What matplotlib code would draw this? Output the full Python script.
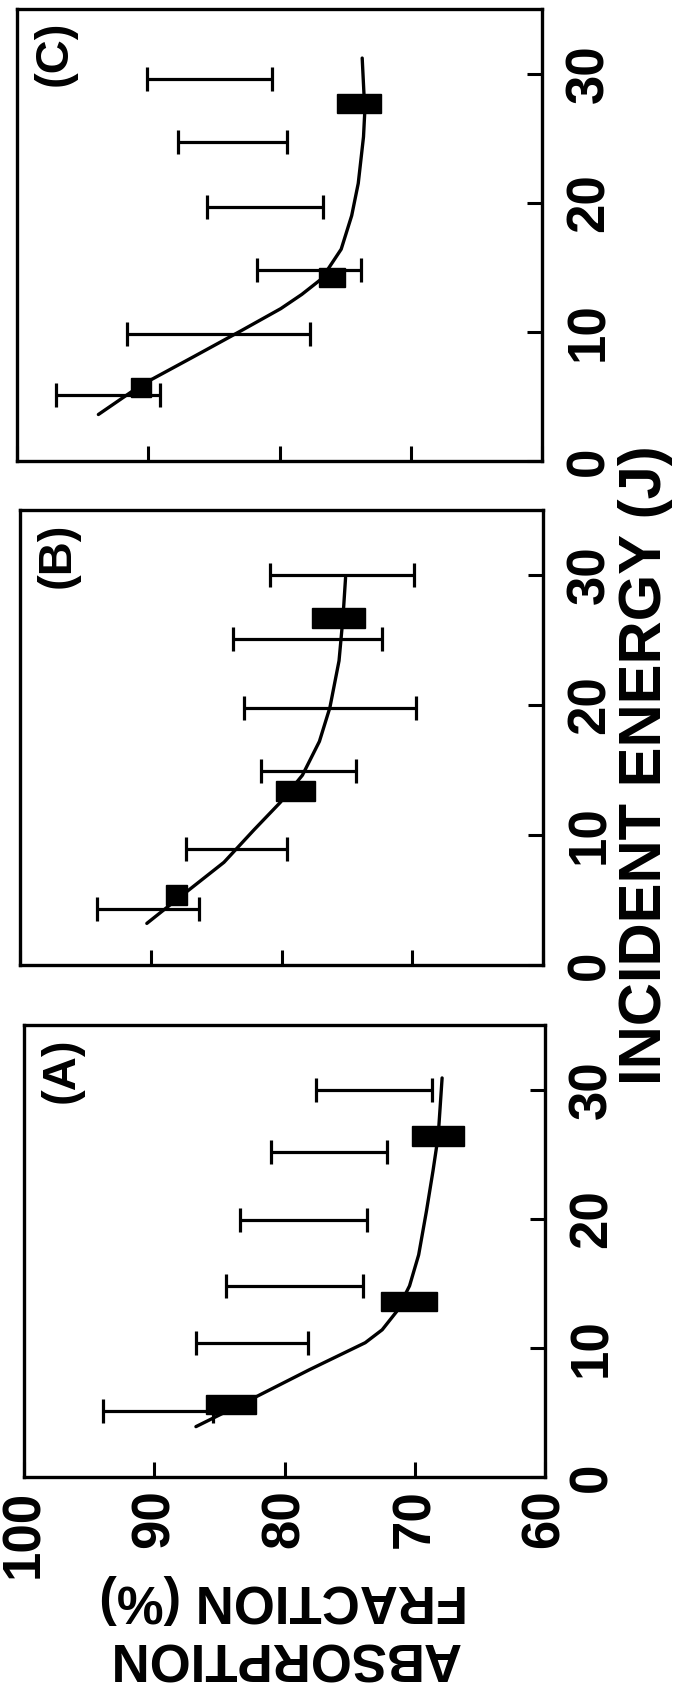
import matplotlib
matplotlib.use('Agg')
import matplotlib.pyplot as plt

plt.rcParams['font.family'] = ['Liberation Sans', 'DejaVu Sans']
plt.rcParams['font.weight'] = 'bold'

W, H = 675, 1694

panel_labels = ['(A)', '(B)', '(C)']
energy_ticks = [0, 10, 20, 30]
absorption_ticks = [100, 90, 80, 70, 60]
x_label = 'INCIDENT ENERGY (J)'
y_label = 'ABSORPTION\nFRACTION (%)'

# ---- Panel A ----
a_curve_e = [3.9, 6.1, 8.3, 10.4, 11.4, 12.8, 14.8, 17.2, 20.6, 23.7, 26.4, 30.9]
a_curve_v = [86.8, 82.4, 78.1, 73.8, 72.5, 71.4, 70.4, 69.7, 69.1, 68.6, 68.2, 67.9]
a_rect_e = [5.6, 13.6, 26.4]
a_rect_hi = [86.0, 72.6, 70.2]
a_rect_lo = [82.2, 68.3, 66.2]
a_err_e = [5.1, 10.4, 14.8, 19.9, 25.2, 30.0]
a_err_hi = [93.9, 86.8, 84.5, 83.4, 81.0, 77.6]
a_err_lo = [85.5, 78.2, 74.0, 73.7, 72.1, 68.7]

# ---- Panel B ----
b_curve_e = [3.2, 5.6, 7.9, 10.4, 12.5, 14.6, 17.2, 19.8, 23.4, 26.7, 29.8]
b_curve_v = [90.3, 87.3, 84.4, 82.1, 80.1, 78.4, 77.1, 76.3, 75.6, 75.3, 75.1]
b_rect_e = [5.4, 13.4, 26.7]
b_rect_hi = [88.8, 80.4, 77.7]
b_rect_lo = [87.2, 77.4, 73.6]
b_err_e = [4.3, 8.9, 14.9, 19.8, 25.1, 30.0]
b_err_hi = [94.1, 87.3, 81.6, 82.9, 83.7, 80.9]
b_err_lo = [86.3, 79.6, 74.3, 69.7, 72.3, 69.9]

# ---- Panel C ----
c_curve_e = [3.6, 5.9, 8.1, 10.1, 11.8, 12.9, 14.1, 16.4, 19.0, 21.5, 25.1, 27.1, 31.2]
c_curve_v = [93.8, 90.5, 86.5, 82.9, 79.9, 78.3, 76.8, 75.3, 74.5, 74.0, 73.6, 73.5, 73.7]
c_rect_e = [5.7, 14.2, 27.7]
c_rect_hi = [91.3, 77.0, 75.6]
c_rect_lo = [89.8, 75.0, 72.3]
c_err_e = [5.1, 9.8, 14.8, 19.7, 24.7, 29.6]
c_err_hi = [97.0, 91.6, 81.7, 85.5, 87.7, 90.1]
c_err_lo = [89.1, 77.7, 73.8, 76.7, 79.4, 80.6]

panels = [
    (a_curve_e, a_curve_v, a_rect_e, a_rect_hi, a_rect_lo, a_err_e, a_err_hi, a_err_lo),
    (b_curve_e, b_curve_v, b_rect_e, b_rect_hi, b_rect_lo, b_err_e, b_err_hi, b_err_lo),
    (c_curve_e, c_curve_v, c_rect_e, c_rect_hi, c_rect_lo, c_err_e, c_err_hi, c_err_lo),
]

# axes boxes in pixels: left, right, top, bottom
boxes = [(24, 545, 1025, 1477), (20, 543, 510, 965), (17, 542, 9, 461)]

fig = plt.figure(figsize=(W / 100, H / 100), dpi=100)
FS = 38
LW = 2.3

for i, (box, data, lab) in enumerate(zip(boxes, panels, panel_labels)):
    l, r, t, b = box
    ax = fig.add_axes([l / W, 1 - b / H, (r - l) / W, (b - t) / H])
    ce, cv, re_, rhi, rlo, ee, ehi, elo = data
    # thin error bars
    centers = [(h + lo) / 2 for h, lo in zip(ehi, elo)]
    halves = [(h - lo) / 2 for h, lo in zip(ehi, elo)]
    ax.errorbar(centers, ee, xerr=halves, fmt='none', ecolor='black',
                elinewidth=LW, capsize=8.5, capthick=LW)
    # fitted curve
    ax.plot(cv, ce, color='black', lw=2.4, solid_capstyle='round', solid_joinstyle='round')
    # solid measured bars
    ax.barh(re_, [h - lo for h, lo in zip(rhi, rlo)], left=rlo, height=1.5,
            color='black', edgecolor='black', linewidth=1)

    ax.set_xlim(100, 60)
    ax.set_ylim(0, 35)
    ax.set_xticks(absorption_ticks)
    ax.set_yticks(energy_ticks)
    for sp in ax.spines.values():
        sp.set_linewidth(2.4)
    ax.tick_params(axis='both', direction='in', length=11, width=2.2, labelsize=FS)
    ax.tick_params(axis='y', left=False, right=True, labelleft=False, labelright=True,
                   labelrotation=90, pad=16)
    ax.tick_params(axis='x', bottom=True, top=False, labelbottom=(i == 0),
                   labelrotation=90, pad=9)
    for tl in ax.get_yticklabels():
        tl.set_fontweight('bold')
        tl.set_va('center')
    for tl in ax.get_xticklabels():
        tl.set_fontweight('bold')
    ax.text(16 / (r - l), 1 - 12 / (b - t), lab, transform=ax.transAxes, rotation=90,
            ha='left', va='top', fontsize=34, fontweight='bold')

fig.text(284 / W, 1 - 1628 / H, y_label, rotation=180, ha='center', va='center',
         fontsize=FS, fontweight='bold', linespacing=1.2, multialignment='center')
fig.text(673 / W, 1 - 765 / H, x_label, rotation=90, ha='right', va='center',
         fontsize=43, fontweight='bold')

fig.savefig('out.png', dpi=100)
